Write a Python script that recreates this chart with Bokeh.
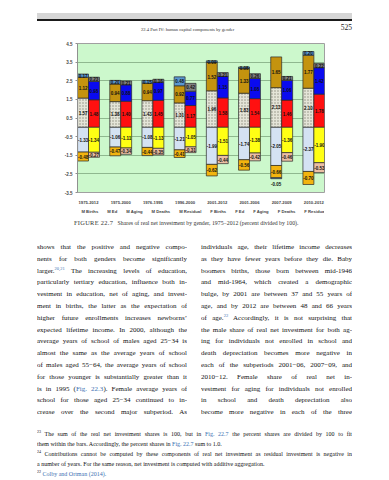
from bokeh.plotting import figure
from bokeh.models import ColumnDataSource, Range1d, FixedTicker, Legend, LegendItem, Div
from bokeh.layouts import column
from bokeh.transform import dodge
from bokeh.core.properties import value
from bokeh.embed import file_html
from bokeh.resources import INLINE

# ---------------- data ----------------
periods = ["1975-2012", "1975-2000", "1976-1995", "1996-2000",
           "2001-2012", "2001-2006", "2007-2009", "2010-2012"]
m_births = [1.57, 1.38, 1.43, 1.31, 1.96, 1.83, 2.13, 2.10]
m_ed = [1.12, 0.94, 0.94, 0.92, 1.52, 1.33, 1.65, 1.77]
m_aging = [-1.33, -1.06, -1.08, -1.21, -1.99, -1.74, -2.05, -2.37]
m_deaths = [-0.48, -0.47, -0.44, -0.41, -0.62, -0.56, -0.66, -0.70]
m_residual = [0.17, 0.20, 0.15, 0.48, 0.09, 0.08, -0.05, 0.20]
f_births = [1.48, 1.40, 1.45, 1.17, 1.58, 1.54, 1.46, 1.78]
f_ed = [0.98, 0.88, 0.97, 0.77, 1.15, 1.08, 1.06, 1.42]
f_aging = [-1.34, -1.11, -1.13, -1.05, -1.51, -1.38, -1.36, -1.90]
f_deaths = [-0.27, -0.34, -0.35, -0.31, -0.44, -0.42, -0.46, -0.53]
f_residual = [0.23, 0.21, 0.16, 0.42, 0.21, 0.26, 0.21, 0.22]
y_ticks = [-3.5, -2.5, -1.5, -0.5, 0.5, 1.5, 2.5, 3.5, 4.5]
y_tick_labels = ["-3.5", "-2.5", "-1.5", "-0.5", "0.5", "1.5", "2.5", "3.5", "4.5"]

series = [
    ("M Births", m_births, -0.17, dict(fill_color="#e4e4d8", hatch_pattern="dot", hatch_scale=3,
                                       hatch_color="#8c8c7c", hatch_weight=1)),
    ("M Ed", m_ed, -0.17, dict(fill_color="#c4930f")),
    ("M Aging", m_aging, -0.17, dict(fill_color="#d4e2f3")),
    ("M Deaths", m_deaths, -0.17, dict(fill_color="#f2b40f")),
    ("M Residual", m_residual, -0.17, dict(fill_color="#5a98d2")),
    ("F Births", f_births, 0.17, dict(fill_color="#ff1010")),
    ("F Ed", f_ed, 0.17, dict(fill_color="#0a0af0")),
    ("F Aging", f_aging, 0.17, dict(fill_color="#ffff14")),
    ("F Deaths", f_deaths, 0.17, dict(fill_color="#ecbfa4")),
    ("F Residual", f_residual, 0.17, dict(fill_color="#808080")),
]

n = len(periods)
idx = list(range(n))
SANS = "Liberation Sans"
SERIF = "Liberation Serif"
PAGE_W = 381

p = figure(width=PAGE_W, height=171, min_border_left=77, min_border_right=57,
           min_border_top=8, min_border_bottom=14, sizing_mode="fixed",
           x_range=Range1d(-0.342, 7.33), y_range=Range1d(-3.5, 4.5),
           output_backend="svg", toolbar_location=None,
           background_fill_color="#ccf8cc", border_fill_color="white")
p.outline_line_color = "#a0a0a0"

stacks = {}
for gender_off in (-0.17, 0.17):
    pos = [0.0] * n
    neg = [0.0] * n
    for name, vals, off, style in series:
        if off != gender_off:
            continue
        b, t, ly = [], [], []
        for i, v in enumerate(vals):
            if v >= 0:
                b.append(pos[i]); t.append(pos[i] + v); pos[i] += v
                ly.append((b[-1] + t[-1]) / 2)
            else:
                t.append(neg[i]); b.append(neg[i] + v); neg[i] += v
                ly.append(b[-1] - 0.3 if abs(v) < 0.1 else (b[-1] + t[-1]) / 2)
        src = ColumnDataSource(dict(idx=idx, bottom=b, top=t, ly=ly,
                                    lab=["%.2f" % v for v in vals]))
        p.vbar(x=dodge("idx", off), width=0.34, bottom="bottom", top="top", source=src,
               line_color="#2a2a2a", line_width=0.7, **style)
        stacks[name] = (src, off)

for name, vals, off, style in series:
    src, off = stacks[name]
    p.text(x=dodge("idx", off), y="ly", text="lab", source=src,
           text_font=value(SANS), text_font_size="4.5px", text_font_style="bold",
           text_align="center", text_baseline="middle", text_color="#111111")

p.yaxis.ticker = FixedTicker(ticks=y_ticks)
p.yaxis.major_label_overrides = {t: s for t, s in zip(y_ticks, y_tick_labels)}
p.yaxis.major_label_text_font = SANS
p.yaxis.major_label_text_font_size = "4.5px"
p.yaxis.major_label_text_font_style = "bold"
p.yaxis.axis_line_color = "#909090"
p.yaxis.major_tick_line_color = "#909090"
p.yaxis.major_tick_out = 2
p.yaxis.major_tick_in = 0
p.yaxis.minor_tick_line_color = None
p.yaxis.major_label_standoff = 3

p.xaxis.ticker = FixedTicker(ticks=idx)
p.xaxis.major_label_overrides = {i: s for i, s in zip(idx, periods)}
p.xaxis.major_label_text_font = SANS
p.xaxis.major_label_text_font_size = "4.2px"
p.xaxis.major_label_text_font_style = "bold"
p.xaxis.axis_line_color = None
p.xaxis.major_tick_line_color = None
p.xaxis.minor_tick_line_color = None
p.xaxis.major_tick_out = 0
p.xaxis.major_label_standoff = 8

p.xgrid.visible = False
p.ygrid.ticker = FixedTicker(ticks=y_ticks)
p.ygrid.grid_line_color = "#8fb88f"
p.ygrid.grid_line_width = 1

# ---------------- legend strip (own small figure) ----------------
lg = figure(width=PAGE_W, height=10, min_border=0, sizing_mode="fixed",
            x_axis_location=None, y_axis_location=None,
            x_range=Range1d(0, 1), y_range=Range1d(0, 1),
            output_backend="svg", toolbar_location=None,
            background_fill_color="white", border_fill_color="white")
lg.outline_line_color = None
lg.grid.visible = False
empty = ColumnDataSource(dict(x=[], top=[]))
items = []
for name, vals, off, style in series:
    r = lg.vbar(x="x", top="top", width=0.1, source=empty,
                line_color="#2a2a2a", line_width=0.7, **style)
    items.append(LegendItem(label=name, renderers=[r]))
legend = Legend(items=items, orientation="horizontal", location="center",
                label_text_font=SANS, label_text_font_size="4.2px", label_text_font_style="bold",
                glyph_width=5, glyph_height=5, label_height=5, label_width=5,
                label_standoff=1, spacing=3, padding=0,
                margin=0, border_line_color=None, background_fill_alpha=0)
lg.add_layout(legend)

# ---------------- page text ----------------
LINK = "#3b6fb2"
header = Div(width=PAGE_W, height=35, margin=0, sizing_mode="fixed", text=(
    f'<div style="position:relative;width:{PAGE_W}px;height:35px;overflow:hidden">'
    '<div style="position:absolute;left:37px;top:13px;width:315px;height:6px;background:#d6d6d6"></div>'
    '<div style="position:absolute;left:37px;top:19px;width:315px;height:2px;background:#1a1a1a"></div>'
    f'<div style="position:absolute;left:141px;top:26.5px;font-family:\'{SERIF}\';font-size:4.6px;'
    'line-height:5px;color:#333;white-space:nowrap">22.4 Part IV: human capital components by gender</div>'
    f'<div style="position:absolute;right:29px;top:24px;font-family:\'{SERIF}\';font-size:7.5px;'
    'line-height:8px;color:#222;white-space:nowrap">525</div></div>'))

caption = Div(width=PAGE_W, height=12, margin=0, sizing_mode="fixed", text=(
    f'<div style="position:relative;width:{PAGE_W}px;height:12px;overflow:hidden;font-family:\'{SERIF}\';color:#333">'
    '<div style="position:absolute;left:74px;top:2.5px;line-height:8px;white-space:nowrap;font-size:5.8px">'
    '<span style="font-size:6.4px;letter-spacing:0.3px">FIGURE 22.7</span>&nbsp;&nbsp;&nbsp;'
    'Shares of real net investment by gender, 1975&minus;2012 (percent divided by 100).</div></div>'))

left_lines = [
    "shows that the positive and negative compo-",
    "nents for both genders become significantly",
    f'larger.<sup style="color:{LINK};font-size:4.5px;line-height:0">20,21</sup> The increasing levels of education,',
    "particularly tertiary education, influence both in-",
    "vestment in education, net of aging, and invest-",
    "ment in births, the latter as the expectation of",
    "higher future enrollments increases newborns&rsquo;",
    "expected lifetime income. In 2000, although the",
    "average years of school of males aged 25&minus;34 is",
    "almost the same as the average years of school",
    "of males aged 55&minus;64, the average years of school",
    "for those younger is substantially greater than it",
    f'is in 1995 (<span style="color:{LINK}">Fig. 22.3</span>). Female average years of',
    "school for those aged 25&minus;34 continued to in-",
    "crease over the second major subperiod. As",
]
right_lines = [
    "individuals age, their lifetime income decreases",
    "as they have fewer years before they die. Baby",
    "boomers births, those born between mid-1946",
    "and mid-1964, which created a demographic",
    "bulge, by 2001 are between 37 and 55 years of",
    "age, and by 2012 are between 48 and 66 years",
    f'of age.<sup style="color:{LINK};font-size:4.5px;line-height:0">22</sup> Accordingly, it is not surprising that',
    "the male share of real net investment for both ag-",
    "ing for individuals not enrolled in school and",
    "death depreciation becomes more negative in",
    "each of the subperiods 2001&minus;06, 2007&minus;09, and",
    "2010&minus;12. Female share of real net in-",
    "vestment for aging for individuals not enrolled",
    "in school and death depreciation also",
    "become more negative in each of the three",
]


def line_div(x, top, w, lh, fs, txt, justify=True):
    just = "text-align:justify;text-align-last:justify;" if justify else "text-align:left;"
    return (f'<div style="position:absolute;left:{x}px;top:{top:.1f}px;width:{w}px;height:{lh}px;'
            f'line-height:{lh}px;font-size:{fs}px;{just}overflow:hidden;white-space:normal">{txt}</div>')


BODY_H = 192
body_html = [f'<div style="position:relative;width:{PAGE_W}px;height:{BODY_H}px;overflow:hidden;'
             f'font-family:\'{SERIF}\';color:#111">']
for i, (a, b) in enumerate(zip(left_lines, right_lines)):
    top = 14 + 11.8 * i
    body_html.append(line_div(37, top, 150, 10, 7, a))
    body_html.append(line_div(201, top, 151, 10, 7, b))
body_html.append("</div>")
body = Div(width=PAGE_W, height=BODY_H, margin=0, sizing_mode="fixed", text="".join(body_html))

foot_lines = [
    (f'<sup style="font-size:4px;line-height:0">23</sup> The sum of the real net investment shares is 100, but in '
     f'<span style="color:{LINK}">Fig. 22.7</span> the percent shares are divided by 100 to fit', True),
    (f'them within the bars. Accordingly, the percent shares in <span style="color:{LINK}">Fig. 22.7</span> sum to 1.0.', False),
    ('<sup style="font-size:4px;line-height:0">24</sup> Contributions cannot be computed by these components of real net '
     'investment as residual investment is negative in', True),
    ('a number of years. For the same reason, net investment is computed with additive aggregation.', False),
    (f'<sup style="font-size:4px;line-height:0">22</sup> <span style="color:{LINK}">Colby and Ortman (2014).</span>', False),
]
FOOT_H = 58
foot_html = [f'<div style="position:relative;width:{PAGE_W}px;height:{FOOT_H}px;overflow:hidden;'
             f'font-family:\'{SERIF}\';color:#111">']
for i, (txt, just) in enumerate(foot_lines):
    top = 10 + 10 * i
    foot_html.append(line_div(37, top, 315, 9, 6, txt, just))
foot_html.append("</div>")
foot = Div(width=PAGE_W, height=FOOT_H, margin=0, sizing_mode="fixed", text="".join(foot_html))

page = column(header, p, lg, caption, body, foot, spacing=0, sizing_mode="fixed",
              width=PAGE_W, height=35 + 171 + 10 + 12 + BODY_H + FOOT_H)
open("out.html", "w", encoding="utf-8").write(file_html(page, INLINE))
